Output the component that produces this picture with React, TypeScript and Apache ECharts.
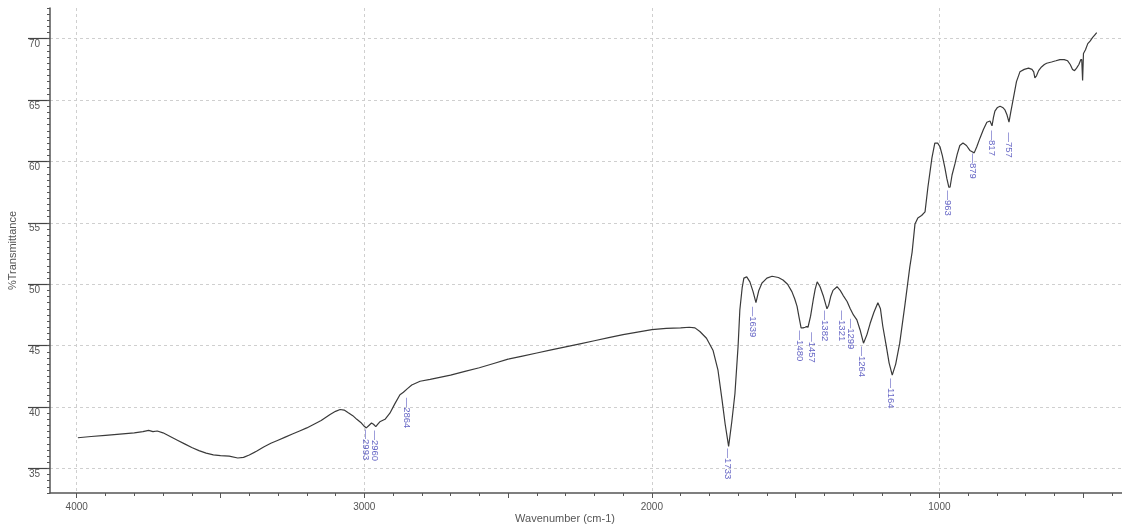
import React, { useEffect, useRef } from 'react';
import * as echarts from 'echarts';

const wavenumbers = [
  3996, 3950, 3900, 3850, 3800, 3770, 3750, 3735, 3720, 3700, 3675, 3650, 3625, 3600, 3575, 3550, 3525, 3500, 3470, 3440,
  3420, 3400, 3375, 3350, 3325, 3300, 3275, 3250, 3225, 3200, 3175, 3150, 3119, 3100, 3084, 3070, 3057, 3040, 3026, 3010,
  3003, 2993, 2984, 2975, 2968, 2960, 2953, 2946, 2928, 2911, 2893, 2876, 2864, 2850, 2835, 2806, 2771, 2700, 2650, 2600,
  2550, 2500, 2450, 2400, 2350, 2300, 2250, 2200, 2150, 2100, 2050, 2000, 1950, 1900, 1870, 1850, 1833, 1810, 1787, 1770,
  1756, 1745, 1733, 1722, 1711, 1700, 1694, 1686, 1680, 1670, 1659, 1648, 1638, 1628, 1617, 1600, 1582, 1560, 1544, 1528,
  1513, 1503, 1495, 1488, 1481, 1474, 1467, 1462, 1457, 1448, 1439, 1432, 1425, 1415, 1403, 1391, 1385, 1378, 1370, 1356,
  1345, 1335, 1321, 1310, 1299, 1287, 1276, 1264, 1252, 1241, 1228, 1214, 1205, 1197, 1185, 1175, 1164, 1152, 1138, 1120,
  1103, 1095, 1085, 1075, 1062, 1050, 1040, 1026, 1016, 1006, 998, 990, 981, 974, 967, 963, 956, 946, 938, 929,
  918, 906, 894, 886, 879, 870, 859, 847, 835, 824, 817, 812, 807, 798, 789, 780, 772, 765, 758, 752,
  744, 732, 720, 705, 690, 678, 672, 668, 662, 655, 645, 635, 627, 610, 595, 581, 566, 554, 545, 537,
  530, 523, 515, 508, 505, 502, 499, 492, 484, 476, 467, 460, 453,
];

const transmittance = [
  37.5, 37.6, 37.7, 37.8, 37.9, 38.0, 38.1, 38.0, 38.05, 37.9, 37.6, 37.3, 37.0, 36.7, 36.45, 36.25, 36.1, 36.05, 36.0, 35.85,
  35.9, 36.1, 36.4, 36.75, 37.05, 37.3, 37.55, 37.8, 38.05, 38.3, 38.6, 38.9, 39.4, 39.65, 39.8, 39.75, 39.55, 39.3, 39.0, 38.7,
  38.5, 38.3, 38.5, 38.7, 38.6, 38.4, 38.6, 38.8, 39.0, 39.5, 40.3, 41.0, 41.2, 41.5, 41.8, 42.1, 42.25, 42.6, 42.9, 43.2,
  43.55, 43.9, 44.15, 44.4, 44.65, 44.9, 45.15, 45.4, 45.65, 45.9, 46.1, 46.3, 46.4, 46.45, 46.5, 46.45, 46.15, 45.6, 44.6, 43.0,
  40.6, 38.6, 36.8, 38.8, 41.1, 45.0, 47.9, 49.7, 50.5, 50.6, 50.2, 49.4, 48.5, 49.5, 50.1, 50.5, 50.65, 50.55, 50.35, 50.0,
  49.4, 48.8, 48.2, 47.3, 46.45, 46.45, 46.5, 46.55, 46.5, 47.4, 48.7, 49.6, 50.2, 49.8, 49.0, 48.0, 48.3, 49.0, 49.5, 49.8,
  49.5, 49.1, 48.6, 48.0, 47.5, 47.1, 46.3, 45.2, 45.9, 46.8, 47.7, 48.5, 48.0, 46.6, 45.0, 43.6, 42.6, 43.5, 45.2, 48.3,
  51.4, 52.6, 54.9, 55.4, 55.6, 55.9, 57.9, 60.3, 61.5, 61.5, 61.2, 60.5, 59.5, 58.6, 57.9, 57.9, 58.9, 59.8, 60.6, 61.3,
  61.5, 61.3, 60.9, 60.8, 60.7, 61.2, 61.9, 62.6, 63.2, 63.3, 62.9, 63.6, 64.1, 64.4, 64.5, 64.4, 64.2, 63.8, 63.2, 64.0,
  65.0, 66.5, 67.3, 67.5, 67.6, 67.5, 67.3, 66.8, 67.0, 67.4, 67.7, 67.9, 68.0, 68.1, 68.2, 68.3, 68.3, 68.2, 67.9, 67.5,
  67.4, 67.6, 67.9, 68.3, 68.3, 66.6, 68.8, 69.1, 69.6, 69.8, 70.1, 70.3, 70.5,
];

// Peak annotations: text, and where each label sits (wavenumber, %T of its top end)
const peakLabels = ['2993', '2960', '2864', '1733', '1639', '1480', '1457', '1382', '1321', '1299', '1264', '1164', '963', '879', '817', '757'];
const peakLabelWavenumbers = [2993, 2960, 2851, 1733, 1645, 1482, 1441, 1396, 1336, 1307, 1267, 1166, 967, 880, 817, 757];
const peakLabelTransmittance = [38.37, 38.3, 40.96, 36.82, 48.38, 46.43, 46.3, 48.06, 48.06, 47.4, 45.14, 42.52, 57.84, 60.85, 62.72, 62.56];

const xLabelTicks = [4000, 3000, 2000, 1000];
const yLabelTicks = [35, 40, 45, 50, 55, 60, 65, 70];
const xTitle = 'Wavenumber (cm-1)';
const yTitle = '%Transmittance';

export default function App() {
  const ref = useRef<HTMLDivElement>(null);

  useEffect(() => {
    if (!ref.current) return;
    const chart = echarts.init(ref.current, null, { renderer: 'svg' });
    const font = "'Liberation Sans', Arial, sans-serif";
    const axisColor = '#555';
    const textColor = '#555';
    const peakColor = '#3d3db5';

    const xMin = 365;
    const xMax = 4093;
    const yMin = 33;
    const yMax = 72.5;

    const minorX: number[] = [];
    for (let v = 400; v <= 4000; v += 100) minorX.push(v);
    const halfX: number[] = [];
    for (let v = 500; v <= 4000; v += 500) halfX.push(v);

    const gridLine = { show: true, lineStyle: { color: '#cfcfcf', type: [3, 3], width: 1 } };

    const lineData = wavenumbers.map((w, i) => [w, transmittance[i]]);
    const peakData = peakLabelWavenumbers.map((w, i) => ({ value: [w, peakLabelTransmittance[i]], name: peakLabels[i] }));

    chart.setOption({
      animation: false,
      grid: { left: 50, right: 0, top: 8, bottom: 35, containLabel: false, outerBoundsMode: 'none' },
      xAxis: [
        {
          type: 'value', inverse: true, min: xMin, max: xMax, position: 'bottom',
          axisLine: { show: true, lineStyle: { color: axisColor, width: 1.5 } },
          axisTick: { show: true, customValues: minorX, length: 3, lineStyle: { color: axisColor } },
          axisLabel: {
            show: true, customValues: xLabelTicks, margin: 8, fontSize: 10, color: textColor, fontFamily: font,
            formatter: (v: number) => String(v),
          },
          splitLine: { show: false },
        },
        {
          type: 'value', inverse: true, min: xMin, max: xMax, position: 'bottom',
          axisLine: { show: false },
          axisTick: { show: true, customValues: halfX, length: 5, lineStyle: { color: axisColor } },
          axisLabel: { show: false },
          splitLine: { show: false },
        },
        {
          type: 'value', inverse: true, min: xMin, max: xMax, position: 'bottom',
          axisLine: { show: false },
          axisTick: { show: false, customValues: xLabelTicks },
          axisLabel: { show: false },
          splitLine: gridLine,
        },
      ],
      yAxis: [
        {
          type: 'value', min: yMin, max: yMax, position: 'left',
          name: yTitle, nameLocation: 'middle', nameGap: 26, nameRotate: 90,
          nameTextStyle: { fontSize: 11, color: textColor, fontFamily: font },
          axisLine: { show: true, lineStyle: { color: axisColor, width: 1.5 } },
          axisTick: { show: true, customValues: yLabelTicks, length: 22, lineStyle: { color: '#444', width: 1.2 } },
          axisLabel: {
            show: true, customValues: yLabelTicks, margin: 10, fontSize: 10, color: textColor, fontFamily: font,
            align: 'right', verticalAlign: 'top',
          },
          splitLine: gridLine,
        },
        {
          type: 'value', min: yMin, max: yMax, interval: 0.5, position: 'left',
          axisLine: { show: false },
          axisTick: { show: true, length: 3, lineStyle: { color: axisColor } },
          axisLabel: { show: false },
          splitLine: { show: false },
        },
      ],
      graphic: [
        {
          type: 'text', x: 565, y: 518,
          style: { text: xTitle, fontSize: 11, fontFamily: font, fill: textColor, align: 'center', verticalAlign: 'middle' },
        },
      ],
      series: [
        {
          type: 'line', xAxisIndex: 0, yAxisIndex: 0, data: lineData, showSymbol: false, silent: true,
          lineStyle: { color: '#3a3a3a', width: 1.2 },
        },
        {
          type: 'scatter', xAxisIndex: 0, yAxisIndex: 0, data: peakData, symbolSize: 1, silent: true,
          itemStyle: { color: 'rgba(0,0,0,0)' },
          label: {
            show: true, position: 'bottom', distance: 2, rotate: -90, align: 'left', verticalAlign: 'middle',
            formatter: (p: any) => '\u2014' + p.name, fontSize: 9.5, color: peakColor, fontFamily: font,
          },
        },
      ],
    });

    return () => chart.dispose();
  }, []);

  return <div ref={ref} style={{ position: 'fixed', left: 0, top: 0, width: 1122, height: 528 }} />;
}
